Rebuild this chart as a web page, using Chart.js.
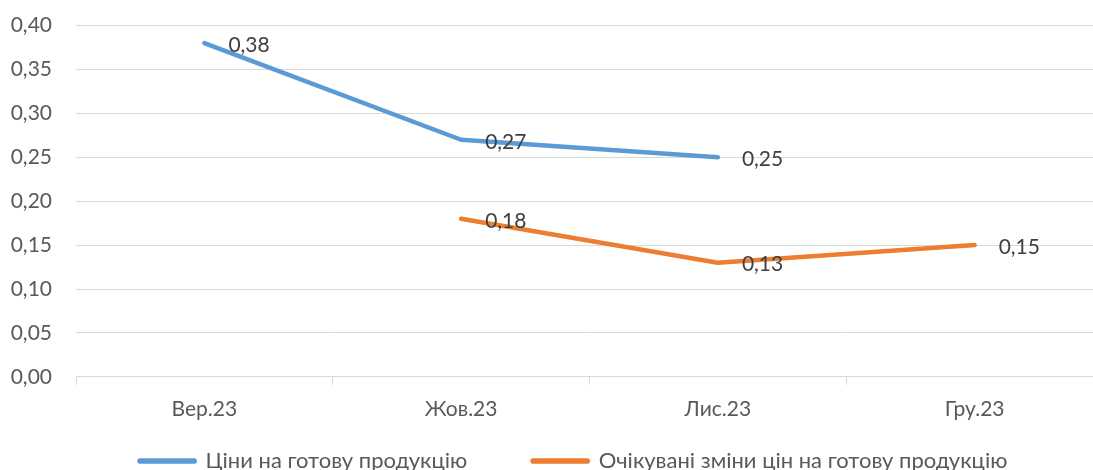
<!DOCTYPE html>
<html>
<head>
<meta charset="utf-8">
<script src="https://cdn.jsdelivr.net/npm/chart.js@4"></script>
<style>
  html, body { margin: 0; padding: 0; background: #fff; overflow: hidden; }
  #wrap { position: relative; top: -11px; width: 1140px; height: 493px; }
</style>
</head>
<body>
<div id="wrap"><canvas id="myChart"></canvas></div>
<script>
const months = ["Вер.23", "Жов.23", "Лис.23", "Гру.23"];
const pricesFinished = [0.38, 0.27, 0.25, null];
const expectedChanges = [null, 0.18, 0.13, 0.15];
const seriesNames = ["Ціни на готову продукцію", "Очікувані зміни цін на готову продукцію"];

const blue = "#5B9BD5";
const orange = "#ED7D31";
const fontFamily = "Lato, 'Open Sans', sans-serif";

const fmt = v => v.toFixed(2).replace(".", ",");

// labels right of each point, like the excel data labels
const pointLabels = {
  id: "pointLabels",
  afterDatasetsDraw(chart) {
    const ctx = chart.ctx;
    ctx.save();
    ctx.font = "21px " + fontFamily;
    ctx.fillStyle = "#404040";
    ctx.textAlign = "left";
    ctx.textBaseline = "middle";
    chart.data.datasets.forEach((ds, i) => {
      chart.getDatasetMeta(i).data.forEach((pt, j) => {
        const v = ds.data[j];
        if (v === null) return;
        ctx.fillText(fmt(v), pt.x + 24, pt.y + 2);
      });
    });
    ctx.restore();
  }
};

// nudge the legend row a bit to the right
const legendShift = {
  id: "legendShift",
  afterLayout(chart) {
    chart.legend.left += 22;
    chart.legend.right += 22;
  }
};

const ctx = document.getElementById("myChart").getContext("2d");
new Chart(ctx, {
  type: "line",
  data: {
    labels: months,
    datasets: [
      {
        label: seriesNames[0],
        data: pricesFinished,
        borderColor: blue,
        backgroundColor: blue,
        borderWidth: 4.5,
        pointRadius: 0,
        borderCapStyle: "round",
        borderJoinStyle: "round",
      },
      {
        label: seriesNames[1],
        data: expectedChanges,
        borderColor: orange,
        backgroundColor: orange,
        borderWidth: 4.5,
        pointRadius: 0,
        borderCapStyle: "round",
        borderJoinStyle: "round",
      },
    ],
  },
  options: {
    responsive: true,
    maintainAspectRatio: false,
    animation: false,
    layout: { padding: { top: 4, left: 0, right: 37, bottom: 0 } },
    plugins: {
      tooltip: { enabled: false },
      legend: {
        position: "bottom",
        labels: {
          font: { family: fontFamily, size: 22 },
          color: "#595959",
          boxWidth: 55,
          boxHeight: 1,
          padding: 16,
          generateLabels(chart) {
            const items = Chart.defaults.plugins.legend.labels.generateLabels(chart);
            items[0].text += "\u2003\u2003\u2003";
            return items;
          },
        },
      },
    },
    scales: {
      x: {
        offset: true,
        grid: {
          offset: true,
          drawOnChartArea: false,
          drawTicks: true,
          tickLength: 8,
          color: "#d9d9d9",
        },
        border: { color: "#d9d9d9", width: 1 },
        ticks: {
          font: { family: fontFamily, size: 21 },
          color: "#595959",
          padding: 12,
        },
      },
      y: {
        min: 0,
        max: 0.4,
        afterFit: scale => { scale.width = 76; },
        grid: { color: "#d9d9d9", drawTicks: false, lineWidth: 1 },
        border: { display: false },
        ticks: {
          stepSize: 0.05,
          font: { family: fontFamily, size: 21 },
          color: "#595959",
          padding: 24,
          callback: v => fmt(v),
        },
      },
    },
  },
  plugins: [pointLabels, legendShift],
});
</script>
</body>
</html>
